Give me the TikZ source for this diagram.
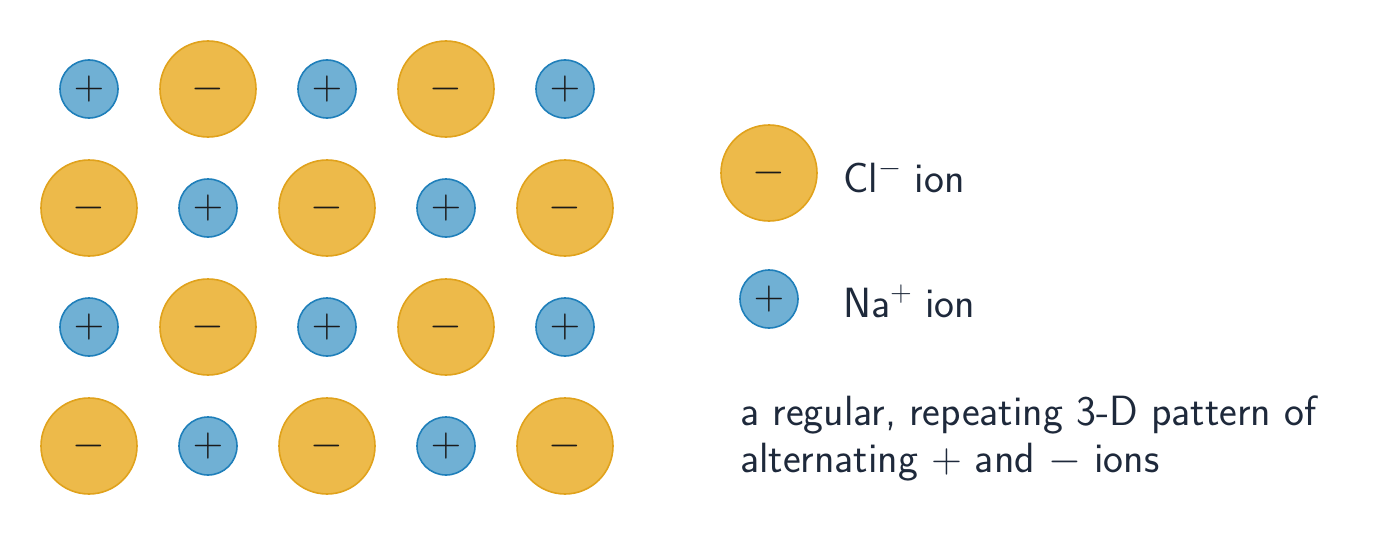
\documentclass[tikz,border=0pt]{standalone}
\usepackage{fix-cm}
\definecolor{clfill}{HTML}{EDBA4A}
\definecolor{cldraw}{HTML}{E0A21C}
\definecolor{nafill}{HTML}{70B0D4}
\definecolor{nadraw}{HTML}{1F7FBA}
\definecolor{ink}{HTML}{1E293B}
\definecolor{sym}{HTML}{1A1A1A}
\begin{document}
\begin{tikzpicture}[x=1pt,y=-1pt,
  cl/.style={circle,fill=clfill,draw=cldraw,line width=1.6pt,minimum size=96pt,inner sep=0pt,
    font=\fontsize{42}{42}\selectfont,text=sym},
  na/.style={circle,fill=nafill,draw=nadraw,line width=1.6pt,minimum size=58pt,inner sep=0pt,
    font=\fontsize{42}{42}\selectfont,text=sym},
  lbl/.style={anchor=base west,inner sep=0pt,text=ink,font=\sffamily\fontsize{42.3}{50}\selectfont}]
\useasboundingbox (0,0) rectangle (1382,535);
\foreach \r in {0,1,2,3}{
  \foreach \c in {0,1,2,3,4}{
    \pgfmathtruncatemacro{\p}{mod(\r+\c,2)}
    \ifnum\p=0
      \node[na] (ion-\r-\c) at ({89+119*\c},{89+119*\r}) {$+$};
    \else
      \node[cl] (ion-\r-\c) at ({89+119*\c},{89+119*\r}) {$-$};
    \fi
  }
}
\node[cl] (legcl) at (769,173) {$-$};
\node[na] (legna) at (769,299) {$+$};
\node[lbl] (txtcl) at (843,192) {Cl$^{-}$ ion};
\node[lbl] (txtna) at (843,317) {Na$^{+}$ ion};
\node[lbl] (desc1) at (740,425) {a regular, repeating 3-D pattern of};
\node[lbl] (desc2) at (740,472) {alternating $+$ and $-$ ions};
\end{tikzpicture}
\end{document}
